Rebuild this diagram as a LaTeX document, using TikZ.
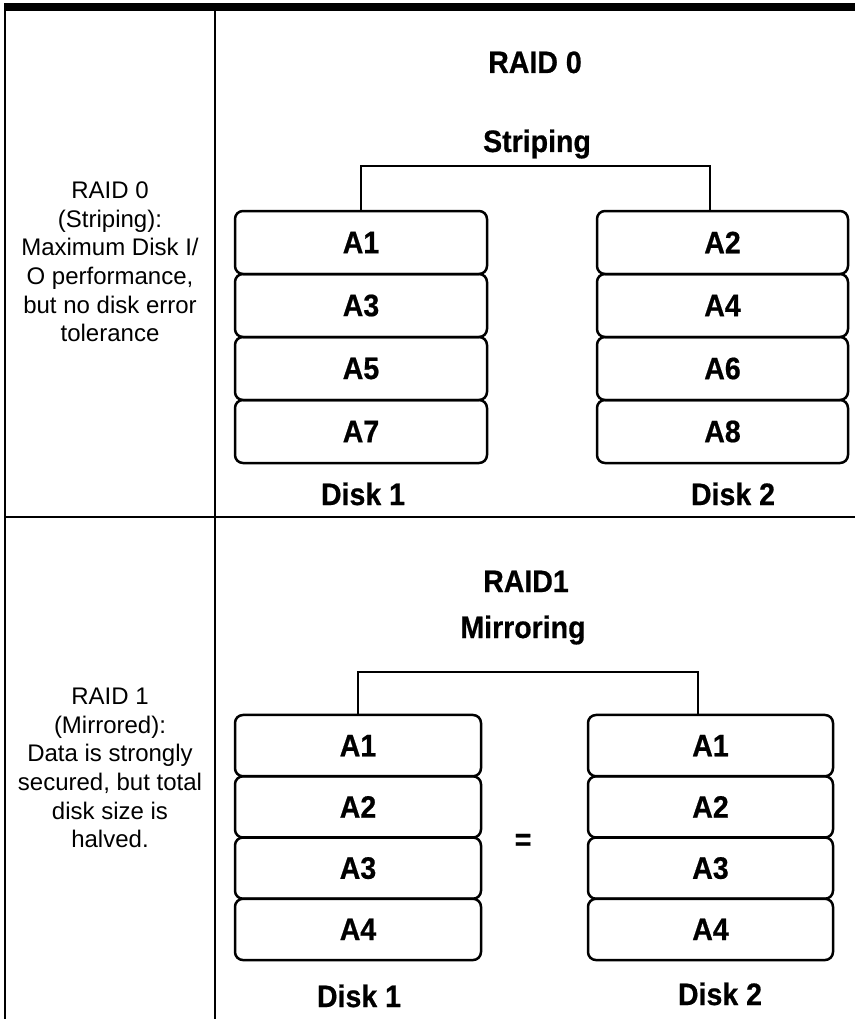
\documentclass[tikz,border=0pt]{standalone}
\usepackage{fontspec}
\setmainfont{Liberation Sans}
\newfontfamily\boldtight[FakeStretch=0.92,FakeBold=0.6]{Liberation Sans Bold}
\begin{document}
\begin{tikzpicture}[x=1pt,y=-1pt,
  rule/.style={line width=2pt},
  bar/.style={line width=8pt},
  disk/.style={draw, line width=2.5pt, rounded corners=8pt, inner sep=0pt,
    font=\boldtight\fontsize{31}{33}\selectfont},
  bigtitle/.style={anchor=base, inner sep=0pt, font=\boldtight\fontsize{31}{33}\selectfont},
  desc/.style={align=center, inner sep=0pt, font=\fontsize{24}{28.6}\selectfont},
  bracket/.style={line width=2pt}]
\useasboundingbox (0,0) rectangle (855,1019);
% table rules
\draw[bar] (4,7.5) -- (855,7.5);
\draw[rule] (5,11) -- (5,1019);
\draw[rule] (215,11) -- (215,1019);
\draw[rule] (5,517) -- (855,517);
% left descriptions
\node[desc] (d0) at (110,262) {RAID 0\\(Striping):\\Maximum Disk I/\\O performance,\\but no disk error\\tolerance};
\node[desc] (d1) at (110,768) {RAID 1\\(Mirrored):\\Data is strongly\\secured, but total\\disk size is\\halved.};
% RAID 0
\node[bigtitle] (t0) at (535,73) {RAID 0};
\node[bigtitle] (s0) at (537,152) {Striping};
\foreach \n/\lab/\y in {1/A1/242.5,2/A3/305.5,3/A5/368.5,4/A7/431.5}{
  \node[disk, minimum width=252pt, minimum height=63pt] (L\n) at (361,\y) {\lab};
}
\foreach \n/\lab/\y in {1/A2/242.5,2/A4/305.5,3/A6/368.5,4/A8/431.5}{
  \node[disk, minimum width=251pt, minimum height=63pt] (R\n) at (722.5,\y) {\lab};
}
\coordinate (b0) at (710,166);
\draw[bracket] (L1.north) |- (b0) -- (b0 |- R1.north);
\node[bigtitle] (k1) at (363,505) {Disk 1};
\node[bigtitle] (k2) at (733,505) {Disk 2};
% RAID 1
\node[bigtitle] (t1) at (526,592) {RAID1};
\node[bigtitle] (s1) at (523,638) {Mirroring};
\foreach \n/\lab/\y in {1/A1/745.6,2/A2/806.9,3/A3/868.1,4/A4/929.4}{
  \node[disk, minimum width=246pt, minimum height=61.25pt] (M\n) at (358,\y) {\lab};
  \node[disk, minimum width=245pt, minimum height=61.25pt] (N\n) at (710.5,\y) {\lab};
}
\coordinate (b1) at (698,671.5);
\draw[bracket] (M1.north) |- (b1) -- (b1 |- N1.north);
\node[inner sep=0pt, font=\boldtight\fontsize{31}{33}\selectfont] (eq) at (523,842) {=};
\node[bigtitle] (m1) at (359,1007) {Disk 1};
\node[bigtitle] (m2) at (720,1005) {Disk 2};
\end{tikzpicture}
\end{document}
